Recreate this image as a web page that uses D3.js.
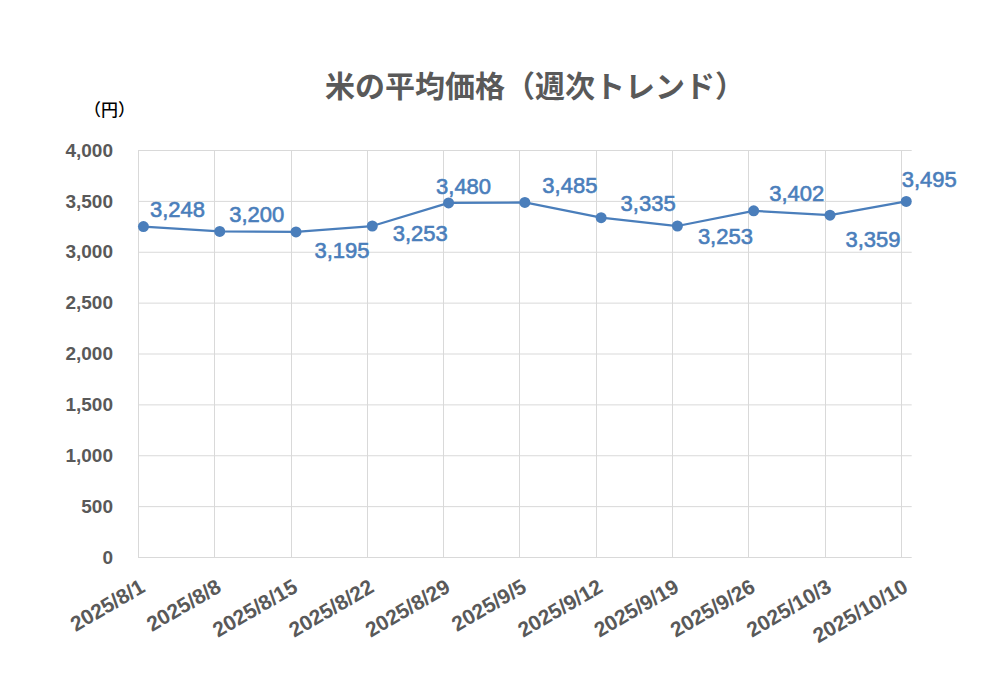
<!DOCTYPE html>
<html>
<head>
<meta charset="utf-8">
<script src="https://cdn.jsdelivr.net/npm/d3@7"></script>
<style>
  body { margin: 0; background: #fff; }
  svg { display: block; }
  .grid line { stroke: #d9d9d9; stroke-width: 1; }
  .tick-label { font-family: "Liberation Sans", Arial, sans-serif; font-weight: bold; fill: #595959; }
  .data-label { font-family: "Liberation Sans", Arial, sans-serif; fill: #4a7ebb; stroke: #4a7ebb; stroke-width: 0.6px; }
</style>
</head>
<body>
<svg id="chart" width="1000" height="700"></svg>
<script>
// 米の平均価格 - weekly data
const dates = ["2025-08-01", "2025-08-08", "2025-08-15", "2025-08-22", "2025-08-29",
  "2025-09-05", "2025-09-12", "2025-09-19", "2025-09-26", "2025-10-03", "2025-10-10"];
const prices = [3248, 3200, 3195, 3253, 3480, 3485, 3335, 3253, 3402, 3359, 3495];
const yTicks = [0, 500, 1000, 1500, 2000, 2500, 3000, 3500, 4000];

// label placement (offset of label centre from its point, px)
const labelOffsets = [[34, -17], [37, -17], [46, 18], [48, 7], [15, -17], [45, -17],
  [47, -14], [48, 10], [43, -18], [43, 24], [23, -22]];

const color = "#4a7ebb";
const parse = d3.utcParse("%Y-%m-%d");
const fmtLabel = d3.utcFormat("%Y/%-m/%-d");
const data = dates.map((d, i) => ({ date: parse(d), value: prices[i] }));

const svg = d3.select("#chart");
const plotLeft = 138, plotRight = 911.7, plotTop = 150, plotBottom = 557;

// Excel date axis: one extra day at the end, points sit in the middle of their day
const x = d3.scaleUtc()
  .domain([data[0].date, d3.utcDay.offset(data[data.length - 1].date, 1)])
  .range([plotLeft, plotRight]);
const y = d3.scaleLinear().domain([0, 4000]).range([plotBottom, plotTop]);
const px = d => x(d3.utcHour.offset(d.date, 12));

// Grid
const grid = svg.append("g").attr("class", "grid");
grid.selectAll(".h").data(yTicks).join("line")
  .attr("x1", plotLeft).attr("x2", plotRight)
  .attr("y1", d => y(d) + 0.5).attr("y2", d => y(d) + 0.5);
grid.selectAll(".v").data(data).join("line")
  .attr("x1", d => Math.round(x(d.date)) + 0.5).attr("x2", d => Math.round(x(d.date)) + 0.5)
  .attr("y1", plotTop).attr("y2", plotBottom);

// Y tick labels
svg.append("g").selectAll("text").data(yTicks).join("text")
  .attr("class", "tick-label")
  .attr("x", 113).attr("y", d => y(d))
  .attr("dy", "0.35em")
  .attr("text-anchor", "end")
  .style("font-size", "19px")
  .text(d => d3.format(",")(d));

// X tick labels (rotated)
svg.append("g").selectAll("text").data(data).join("text")
  .attr("class", "tick-label")
  .attr("text-anchor", "end")
  .attr("transform", d => `translate(${px(d) + 3},591) rotate(-30)`)
  .style("font-size", "21px")
  .text(d => fmtLabel(d.date));

// Line
svg.append("path").datum(data)
  .attr("fill", "none")
  .attr("stroke", color)
  .attr("stroke-width", 2.25)
  .attr("stroke-linejoin", "round")
  .attr("d", d3.line().x(px).y(d => y(d.value)));

// Markers
svg.append("g").selectAll("circle").data(data).join("circle")
  .attr("cx", px).attr("cy", d => y(d.value))
  .attr("r", 5.5)
  .attr("fill", color);

// Data labels
svg.append("g").selectAll("text").data(data).join("text")
  .attr("class", "data-label")
  .attr("text-anchor", "middle")
  .attr("dy", "0.35em")
  .attr("x", (d, i) => px(d) + labelOffsets[i][0])
  .attr("y", (d, i) => y(d.value) + labelOffsets[i][1])
  .style("font-size", "22px")
  .text(d => d3.format(",")(d.value));

// Title and unit
svg.append("text")
  .attr("x", 325).attr("y", 97)
  .style("font-family", "'Noto Sans CJK JP', sans-serif")
  .style("font-weight", "bold")
  .style("font-size", "30px")
  .attr("fill", "#595959")
  .text("米の平均価格（週次トレンド）");

svg.append("text")
  .attr("x", 84).attr("y", 116)
  .style("font-family", "'Noto Sans CJK JP', sans-serif")
  .style("font-weight", "500")
  .style("font-size", "17px")
  .attr("fill", "#000")
  .text("（円）");
</script>
</body>
</html>
